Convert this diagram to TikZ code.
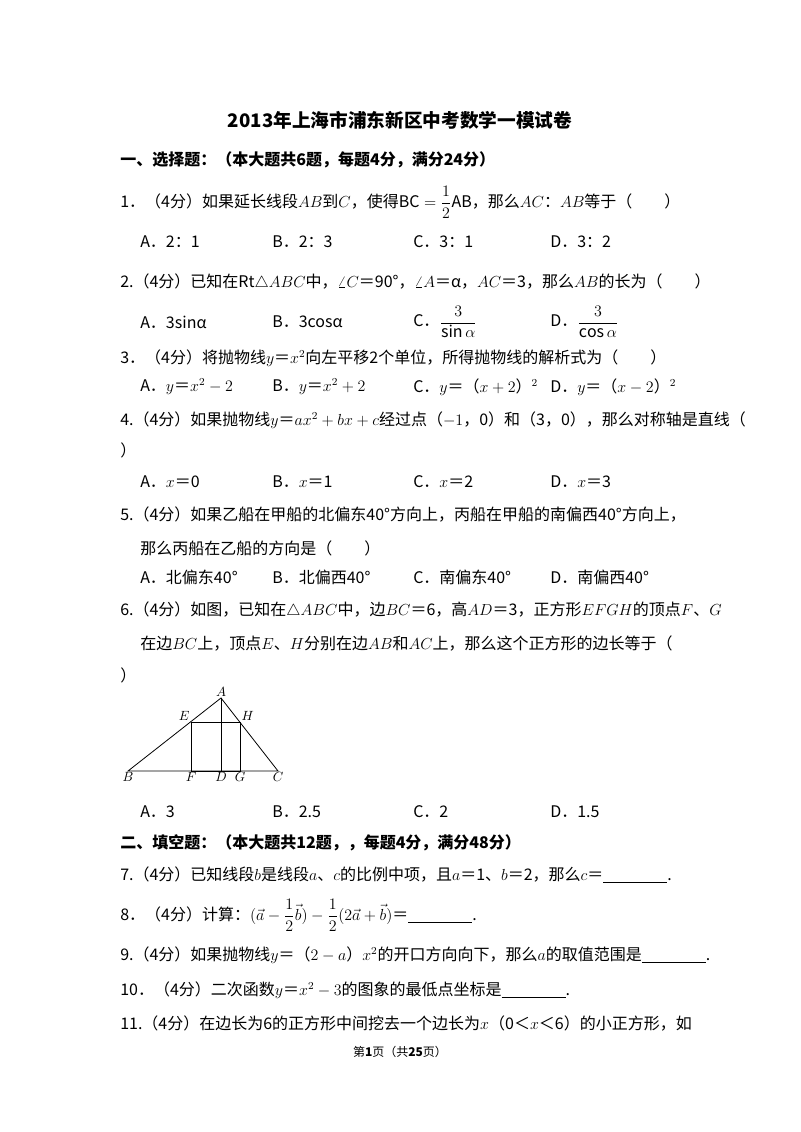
\documentclass[tikz,border=0pt]{standalone}
\usepackage{amsmath}
\usepackage{fontspec}
\setmainfont{Noto Sans CJK SC}
\usetikzlibrary{positioning}
\tikzset{
	txt/.style={anchor=west, inner sep=0pt, font=\fontsize{12}{14}\selectfont},
	opt/.style={txt},
	head/.style={txt, font=\fontsize{12}{14}\selectfont\bfseries},
	edge/.style={line width=0.6pt},
	pt/.style={inner sep=1pt, font=\fontsize{10}{12}\selectfont},
}
\newcommand{\blank}{\underline{\hspace{4em}}}
\begin{document}
\begin{tikzpicture}[x=0.75pt, y=-0.75pt]
		\useasboundingbox (0,0) rectangle (800,1132);
		% title
		\node[inner sep=0pt, font=\fontsize{14}{16}\selectfont\bfseries] (title) at (400,120) {2013年上海市浦东新区中考数学一模试卷};
		\node[head] (s1) at (120,160) {一、选择题：（本大题共6题，每题4分，满分24分）};
		% 1
		\node[txt] (q1) at (120,202) {1．（4分）如果延长线段$AB$到$C$，使得$\mathrm{BC}=\dfrac{1}{2}\mathrm{AB}$，那么$AC$：$AB$等于（\quad\quad）};
		\node[opt] (q1a) at (140,242) {A．2：1};
		\node[opt] (q1b) at (272,242) {B．2：3};
		\node[opt] (q1c) at (413,242) {C．3：1};
		\node[opt] (q1d) at (550,242) {D．3：2};
		% 2
		\node[txt] (q2) at (120,282) {2.（4分）已知在Rt$\triangle ABC$中，$\angle C$＝90°，$\angle A$＝α，$AC$＝3，那么$AB$的长为（\quad\quad）};
		\node[opt] (q2a) at (140,322) {A．3sinα};
		\node[opt] (q2b) at (272,322) {B．3cosα};
		\node[opt] (q2c) at (413,322) {C．$\dfrac{3}{\sin\alpha}$};
		\node[opt] (q2d) at (550,322) {D．$\dfrac{3}{\cos\alpha}$};
		% 3
		\node[txt] (q3) at (120,358) {3．（4分）将抛物线$y$＝$x^2$向左平移2个单位，所得抛物线的解析式为（\quad\quad）};
		\node[opt] (q3a) at (140,387) {A．$y$＝$x^2-2$};
		\node[opt] (q3b) at (272,387) {B．$y$＝$x^2+2$};
		\node[opt] (q3c) at (413,387) {C．$y$＝（$x+2$）$^2$};
		\node[opt] (q3d) at (550,387) {D．$y$＝（$x-2$）$^2$};
		% 4
		\node[txt] (q4) at (120,420) {4.（4分）如果抛物线$y$＝$ax^2+bx+c$经过点（$-1$，0）和（3，0），那么对称轴是直线（};
		\node[txt] (q4x) at (120,450) {）};
		\node[opt] (q4a) at (140,482) {A．$x$＝0};
		\node[opt] (q4b) at (272,482) {B．$x$＝1};
		\node[opt] (q4c) at (413,482) {C．$x$＝2};
		\node[opt] (q4d) at (550,482) {D．$x$＝3};
		% 5
		\node[txt] (q5) at (120,515) {5.（4分）如果乙船在甲船的北偏东40°方向上，丙船在甲船的南偏西40°方向上，};
		\node[txt] (q5x) at (140,548) {那么丙船在乙船的方向是（\quad\quad）};
		\node[opt] (q5a) at (140,577) {A．北偏东40°};
		\node[opt] (q5b) at (272,577) {B．北偏西40°};
		\node[opt] (q5c) at (413,577) {C．南偏东40°};
		\node[opt] (q5d) at (550,577) {D．南偏西40°};
		% 6
		\node[txt] (q6) at (120,610) {6.（4分）如图，已知在$\triangle ABC$中，边$BC$＝6，高$AD$＝3，正方形$EFGH$的顶点$F$、$G$};
		\node[txt] (q6x) at (140,643) {在边$BC$上，顶点$E$、$H$分别在边$AB$和$AC$上，那么这个正方形的边长等于（};
		\node[txt] (q6y) at (120,675) {）};
		% figure
		\coordinate (A) at (221,698);
		\coordinate (B) at (128,771);
		\coordinate (C) at (278,771);
		\coordinate (D) at (221,771);
		\coordinate (E) at (191,722);
		\coordinate (H) at (240,722);
		\coordinate (F) at (191,771);
		\coordinate (G) at (240,771);
		\draw[edge] (A) -- (B) -- (C) -- cycle;
		\draw[edge] (A) -- (D);
		\draw[edge] (E) -- (F) -- (G) -- (H) -- cycle;
		\node[pt, above] at (A) {$A$};
		\node[pt, above left] at (E) {$E$};
		\node[pt, above right] at (H) {$H$};
		\node[pt, below] at (B) {$B$};
		\node[pt, below] at (C) {$C$};
		\node[pt, below] at (D) {$D$};
		\node[pt, below] at (F) {$F$};
		\node[pt, below] at (G) {$G$};
		\node[opt] (q6a) at (140,812) {A．3};
		\node[opt] (q6b) at (272,812) {B．2.5};
		\node[opt] (q6c) at (413,812) {C．2};
		\node[opt] (q6d) at (550,812) {D．1.5};
		% part two
		\node[head] (s2) at (120,843) {二、填空题：（本大题共12题，，每题4分，满分48分）};
		\node[txt] (q7) at (120,875) {7.（4分）已知线段$b$是线段$a$、$c$的比例中项，且$a$＝1、$b$＝2，那么$c$＝\blank.};
		\node[txt] (q8) at (120,915) {8．（4分）计算：$(\vec{a}-\dfrac{1}{2}\vec{b})-\dfrac{1}{2}(2\vec{a}+\vec{b})$＝\blank.};
		\node[txt] (q9) at (120,955) {9.（4分）如果抛物线$y$＝（$2-a$）$x^2$的开口方向向下，那么$a$的取值范围是\blank.};
		\node[txt] (q10) at (120,990) {10．（4分）二次函数$y$＝$x^2-3$的图象的最低点坐标是\blank.};
		\node[txt] (q11) at (120,1023) {11.（4分）在边长为6的正方形中间挖去一个边长为$x$（0＜$x$＜6）的小正方形，如};
		\node[inner sep=0pt, font=\fontsize{9}{11}\selectfont] (foot) at (400,1052) {第\textbf{1}页（共\textbf{25}页）};
	\end{tikzpicture}
\end{document}
